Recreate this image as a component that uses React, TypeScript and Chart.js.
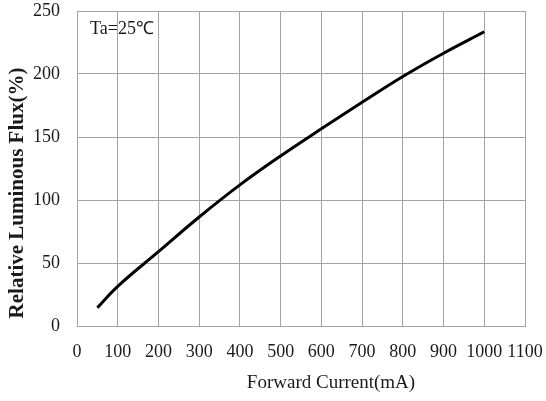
import { useEffect, useRef } from 'react';
import { Chart, registerables } from 'chart.js';

Chart.register(...registerables);

// Forward current (mA) vs relative luminous flux (%)
const currentMa = [50, 100, 200, 300, 400, 500, 600, 700, 800, 900, 1000];
const fluxPct = [14.5, 31.5, 59, 86.5, 112, 135, 156.5, 177.5, 198, 216.5, 233.5];

const xTicks = [0, 100, 200, 300, 400, 500, 600, 700, 800, 900, 1000, 1100];
const yTicks = [0, 50, 100, 150, 200, 250];

const SERIF = '"Liberation Serif", "Times New Roman", serif';
const GRID = '#a3a3a3';
const INK = '#1a1a1a';

// axis titles and the Ta note sit where the datasheet put them, not where Chart.js centres them
const labelsPlugin = {
  id: 'sheetLabels',
  afterDraw(chart: Chart) {
    const { ctx, chartArea } = chart;
    ctx.save();
    ctx.fillStyle = INK;
    ctx.font = `18px ${SERIF}`;
    ctx.textAlign = 'left';
    ctx.textBaseline = 'alphabetic';
    ctx.fillText('Ta=25\u2103', chartArea.left + 13, chartArea.top + 23);

    ctx.font = `19px ${SERIF}`;
    ctx.textAlign = 'center';
    ctx.textBaseline = 'middle';
    ctx.fillText('Forward Current(mA)', 331, 383);

    ctx.translate(18, 193);
    ctx.rotate(-Math.PI / 2);
    ctx.font = `bold 21px ${SERIF}`;
    ctx.fillText('Relative Luminous Flux(%)', 0, 0);
    ctx.restore();
  },
};

export default function App(): JSX.Element {
  const canvasRef = useRef<HTMLCanvasElement>(null);

  useEffect(() => {
    if (!canvasRef.current) return;
    const chart = new Chart(canvasRef.current, {
      type: 'line',
      data: {
        datasets: [
          {
            label: 'Relative Luminous Flux',
            data: currentMa.map((x, i) => ({ x, y: fluxPct[i] })),
            borderColor: '#000',
            borderWidth: 3,
            pointRadius: 0,
            tension: 0.4,
            fill: false,
          },
        ],
      },
      options: {
        animation: false,
        responsive: false,
        layout: { padding: { top: 11, right: 21, left: 0, bottom: 0 } },
        plugins: { legend: { display: false }, tooltip: { enabled: false } },
        scales: {
          x: {
            type: 'linear',
            min: 0,
            max: 1100,
            afterBuildTicks: s => { s.ticks = xTicks.map(v => ({ value: v })); },
            afterFit: s => { s.height = 75; s.paddingLeft = 0; s.paddingRight = 0; },
            grid: { color: GRID, drawTicks: false },
            border: { color: GRID },
            ticks: {
              color: INK, padding: 15, maxRotation: 0, autoSkip: false,
              font: { family: SERIF, size: 18 },
              callback: v => String(v),
            },
          },
          y: {
            type: 'linear',
            min: 0,
            max: 250,
            afterBuildTicks: s => { s.ticks = yTicks.map(v => ({ value: v })); },
            afterFit: s => { s.width = 77; s.paddingTop = 0; s.paddingBottom = 0; },
            grid: { color: GRID, drawTicks: false },
            border: { color: GRID },
            ticks: {
              color: INK, padding: 17,
              font: { family: SERIF, size: 18 },
              callback: v => String(v),
            },
          },
        },
      },
      plugins: [labelsPlugin],
    });
    return () => { chart.destroy(); };
  }, []);

  return (
    <div style={{ position: 'absolute', left: 0, top: 0, width: 546, height: 401, background: '#fff' }}>
      <canvas ref={canvasRef} width={546} height={401} />
    </div>
  );
}
